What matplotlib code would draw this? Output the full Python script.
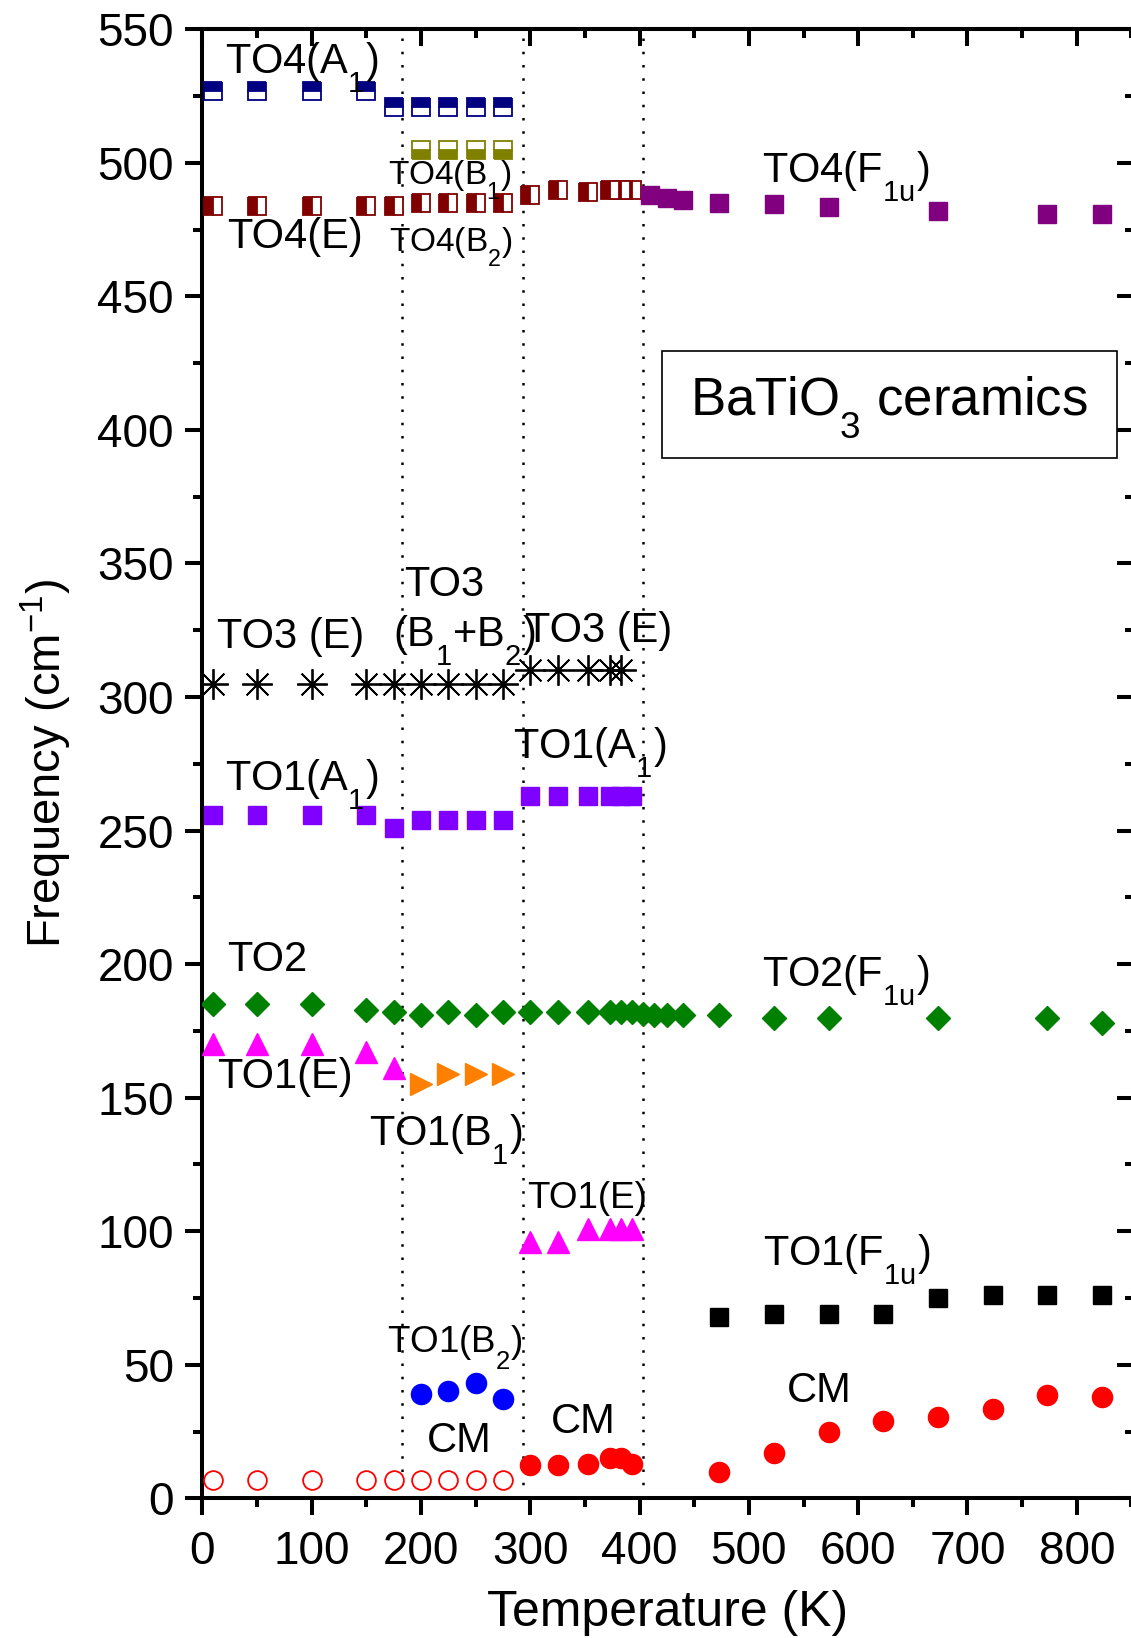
import matplotlib
matplotlib.use('Agg')
import matplotlib.pyplot as plt
import matplotlib._mathtext as mathtext_internal
from matplotlib.patches import Rectangle
from matplotlib.ticker import MultipleLocator

plt.rcParams['font.family'] = ['Liberation Sans', 'DejaVu Sans']
plt.rcParams['mathtext.fontset'] = 'custom'
plt.rcParams['mathtext.rm'] = 'Liberation Sans'
plt.rcParams['mathtext.it'] = 'Liberation Sans:italic'
# Origin-style subscripts sit lower than matplotlib's default
mathtext_internal.FontConstantsBase.sub1 = 0.85

# phase transition temperatures (dotted lines)
phase_T = [183, 293, 403]

# TO4 modes
to4_a1_T = [10, 50, 100, 150, 175, 200, 225, 250, 275]
to4_a1 = [527, 527, 527, 527, 521, 521, 521, 521, 521]
to4_b1_T = [200, 225, 250, 275]
to4_b1 = [505, 505, 505, 505]
to4_e_T = [10, 50, 100, 150, 175]
to4_e = [484, 484, 484, 484, 484]
to4_b2_T = [200, 225, 250, 275]
to4_b2 = [485, 485, 485, 485]
to4_e_tet_T = [300, 325, 353, 373, 383, 393]
to4_e_tet = [488, 490, 489, 490, 490, 490]
to4_f1u_T = [410, 425, 440, 473, 523, 573, 673, 773, 823]
to4_f1u = [488, 487, 486, 485, 484.5, 483.5, 482, 481, 481]

# TO3 modes
to3_T = [10, 50, 100, 150, 175, 200, 225, 250, 275, 300, 325, 353, 373, 383]
to3 = [305, 305, 305, 305, 305, 305, 305, 305, 305, 310, 310, 310, 310, 310]

# TO1(A1)
to1_a1_T = [10, 50, 100, 150, 175, 200, 225, 250, 275, 300, 325, 353, 373, 383, 393]
to1_a1 = [256, 256, 256, 256, 251, 254, 254, 254, 254, 263, 263, 263, 263, 263, 263]

# TO2
to2_T = [10, 50, 100, 150, 175, 200, 225, 250, 275, 300, 325, 353, 373, 383, 393,
         403, 413, 425, 440, 473, 523, 573, 673, 773, 823]
to2 = [185, 185, 185, 183, 182, 181, 182, 181, 182, 182, 182, 182, 182, 182, 182,
       181.5, 181, 181, 181, 181, 180, 180, 180, 180, 178]

# TO1 modes
to1_e_T = [10, 50, 100, 150, 175]
to1_e = [170, 170, 170, 167, 161]
to1_b1_T = [200, 225, 250, 275]
to1_b1 = [155, 159, 159, 159]
to1_e_tet_T = [300, 325, 353, 373, 383, 393]
to1_e_tet = [96, 96, 101, 101, 101, 101]
to1_b2_T = [200, 225, 250, 275]
to1_b2 = [39, 40, 43, 37]
to1_f1u_T = [473, 523, 573, 623, 673, 723, 773, 823]
to1_f1u = [68, 69, 69, 69, 75, 76, 76, 76]

# central mode
cm_open_T = [10, 50, 100, 150, 175, 200, 225, 250, 275]
cm_open = [7, 7, 7, 7, 7, 7, 7, 7, 7]
cm_T = [300, 325, 353, 373, 383, 393, 473, 523, 573, 623, 673, 723, 773, 823]
cm = [12.5, 12.5, 13, 15, 15, 13, 10, 17, 25, 29, 30.5, 33.5, 38.5, 38]

fig = plt.figure(figsize=(11.31, 16.38), dpi=100)
ax = fig.add_axes([0.1789, 0.0853, 0.8234, 0.8968])

for t in phase_T:
    ax.axvline(t, color='black', lw=1.8, ls=(0, (1, 4.3)), zorder=1)

sq = dict(ls='none', marker='s', ms=12.5, mew=1.3, markerfacecoloralt='white', zorder=3)
ax.plot(to4_a1_T, to4_a1, color='#000080', fillstyle='top', **sq)
ax.plot(to4_b1_T, to4_b1, color='#808000', fillstyle='bottom', **sq)
ax.plot(to4_e_T, to4_e, color='#800000', fillstyle='left', **sq)
ax.plot(to4_b2_T, to4_b2, color='#800000', fillstyle='left', **sq)
ax.plot(to4_e_tet_T, to4_e_tet, color='#800000', fillstyle='left', **sq)
ax.plot(to4_f1u_T, to4_f1u, ls='none', marker='s', ms=13.5, color='#800080', zorder=3)

ax.plot(to3_T, to3, ls='none', marker=(8, 2, 0), ms=22, mew=1.3, color='black', zorder=3)
ax.plot(to1_a1_T, to1_a1, ls='none', marker='s', ms=13.5, color='#8000FF', zorder=3)
ax.plot(to2_T, to2, ls='none', marker='D', ms=12, color='#008000', zorder=3)
ax.plot(to1_e_T, to1_e, ls='none', marker='^', ms=15.5, color='#FF00FF', zorder=3)
ax.plot(to1_b1_T, to1_b1, ls='none', marker='>', ms=15.5, color='#FF8000', zorder=3)
ax.plot(to1_e_tet_T, to1_e_tet, ls='none', marker='^', ms=15.5, color='#FF00FF', zorder=3)
ax.plot(to1_b2_T, to1_b2, ls='none', marker='o', ms=14.5, color='#0000FF', zorder=3)
ax.plot(to1_f1u_T, to1_f1u, ls='none', marker='s', ms=13, color='black', zorder=3)
ax.plot(cm_open_T, cm_open, ls='none', marker='o', ms=13.5, mew=1.3, mfc='white', color='#FF0000', zorder=3)
ax.plot(cm_T, cm, ls='none', marker='o', ms=14.5, color='#FF0000', zorder=3)

# mode labels
big = 30
small = 24
mid = 26.5
labels = [
    (20.3, 533.6, r'TO4($\mathregular{A_1}$)', big),
    (170.2, 491.7, r'TO4($\mathregular{B_1}$)', small),
    (22.3, 468.0, 'TO4(E)', big),
    (171.0, 466.7, r'TO4($\mathregular{B_2}$)', small),
    (512.4, 492.5, r'TO4($\mathregular{F_{1u}}$)', big),
    (184.8, 337.9, 'TO3', big),
    (174.7, 318.8, r'($\mathregular{B_1}$+$\mathregular{B_2}$)', big),
    (13.2, 318.2, 'TO3 (E)', big),
    (295.2, 320.7, 'TO3 (E)', big),
    (284.6, 277.0, r'TO1($\mathregular{A_1}$)', big),
    (20.8, 265.2, r'TO1($\mathregular{A_1}$)', big),
    (22.3, 197.5, 'TO2', big),
    (512.4, 191.5, r'TO2($\mathregular{F_{1u}}$)', big),
    (13.2, 153.5, 'TO1(E)', big),
    (152.2, 132.0, r'TO1($\mathregular{B_1}$)', big),
    (296.8, 108.6, 'TO1(E)', mid),
    (512.5, 87.3, r'TO1($\mathregular{F_{1u}}$)', big),
    (169.3, 54.9, r'TO1($\mathregular{B_2}$)', mid),
    (205.8, 17.4, 'CM', big),
    (318.7, 24.3, 'CM', big),
    (534.9, 35.9, 'CM', big),
]
for x, y, s, fs in labels:
    ax.text(x, y, s, fontsize=fs, ha='left', va='baseline', zorder=4)

ax.add_patch(Rectangle((420.6, 389.5), 416.3, 40, fill=False, ec='black', lw=1.2, zorder=4))
ax.text(446, 405.5, r'BaTiO$_\mathregular{3}$ ceramics', fontsize=38, ha='left', va='baseline', zorder=4)

ax.set_xlim(0, 852)
ax.set_ylim(0, 550)
ax.xaxis.set_major_locator(MultipleLocator(100))
ax.xaxis.set_minor_locator(MultipleLocator(50))
ax.yaxis.set_major_locator(MultipleLocator(50))
ax.yaxis.set_minor_locator(MultipleLocator(25))
ax.tick_params(which='major', direction='out', length=12.5, width=2.9, labelsize=33)
ax.tick_params(which='minor', direction='out', length=6.5, width=2.9)
ax.tick_params(axis='x', pad=10.5)
ax.tick_params(axis='y', pad=8)
for sp in ax.spines.values():
    sp.set_linewidth(2.9)

top = ax.secondary_xaxis('top')
top.xaxis.set_major_locator(MultipleLocator(100))
top.xaxis.set_minor_locator(MultipleLocator(50))
top.tick_params(which='major', direction='in', length=12.5, width=2.9, labeltop=False)
top.tick_params(which='minor', direction='in', length=6.5, width=2.9)
top.spines['top'].set_linewidth(2.9)
right = ax.secondary_yaxis('right')
right.yaxis.set_major_locator(MultipleLocator(50))
right.yaxis.set_minor_locator(MultipleLocator(25))
right.tick_params(which='major', direction='in', length=12.5, width=2.9, labelright=False)
right.tick_params(which='minor', direction='in', length=6.5, width=2.9)

ax.set_xlabel('Temperature (K)', fontsize=36, labelpad=11)
ax.set_ylabel(r'Frequency (cm$^{\mathregular{-1}}$)', fontsize=34, labelpad=17)

fig.savefig('out.png', dpi=100)
